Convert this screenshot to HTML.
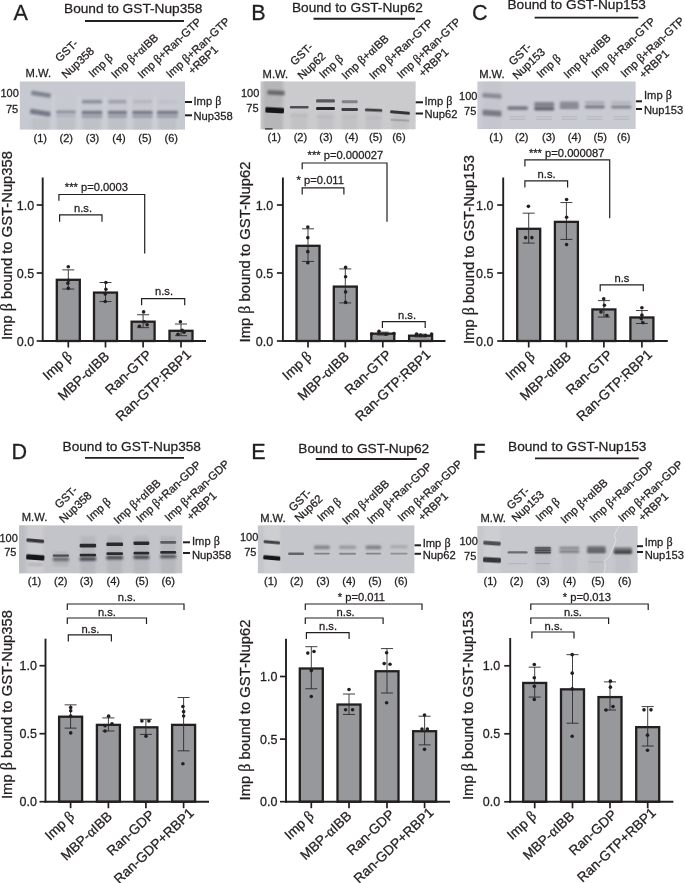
<!DOCTYPE html>
<html lang="en"><head><meta charset="utf-8"><title>Figure</title>
<style>
html,body{margin:0;padding:0;background:#fff;}
body{width:685px;height:883px;overflow:hidden;}
svg{display:block;}
text{font-family:"Liberation Sans",Arial,Helvetica,sans-serif;fill:#231f20;stroke:#231f20;stroke-width:0.28px;stroke-linejoin:round;}
.g{font-family:"Liberation Serif","Times New Roman",serif;font-size:108%;}
</style></head><body>
<svg width="685" height="883" viewBox="0 0 685 883">
<defs>
<filter id="b1" x="-20%" y="-100%" width="140%" height="300%"><feGaussianBlur stdDeviation="0.55"/></filter>
<filter id="b2" x="-20%" y="-100%" width="140%" height="300%"><feGaussianBlur stdDeviation="0.68"/></filter>
<filter id="b3" x="-20%" y="-150%" width="140%" height="400%"><feGaussianBlur stdDeviation="1.0"/></filter>
<filter id="b5" x="-60%" y="-30%" width="220%" height="160%"><feGaussianBlur stdDeviation="1.6"/></filter>
<filter id="b4" x="-30%" y="-200%" width="160%" height="500%"><feGaussianBlur stdDeviation="2.6"/></filter>
</defs>
<rect width="685" height="883" fill="#ffffff"/>
<g id="panelA">
<text x="13.60" y="19.80" font-size="21.6" text-anchor="start">A</text>
<text x="64.00" y="13.20" font-size="13.7" text-anchor="start">Bound to GST-Nup358</text>
<line x1="85.00" y1="21.00" x2="184.00" y2="21.00" stroke="#231f20" stroke-width="1.9"/>
<text x="25.60" y="76.60" font-size="11.2" text-anchor="start">M.W.</text>
<text x="0" y="0" transform="translate(59.50 62.50) rotate(-43)" font-size="11.3" text-anchor="start">GST-</text>
<text x="0" y="0" transform="translate(66.00 79.00) rotate(-43)" font-size="11.3" text-anchor="start">Nup358</text>
<text x="0" y="0" transform="translate(93.00 78.00) rotate(-43)" font-size="11.3" text-anchor="start">Imp <tspan class="g">β</tspan></text>
<text x="0" y="0" transform="translate(115.50 79.00) rotate(-43)" font-size="11.3" text-anchor="start">Imp <tspan class="g">β</tspan>+<tspan class="g">α</tspan>IBB</text>
<text x="0" y="0" transform="translate(142.00 79.00) rotate(-43)" font-size="11.3" text-anchor="start">Imp <tspan class="g">β</tspan>+Ran-GTP</text>
<text x="0" y="0" transform="translate(170.50 78.50) rotate(-43)" font-size="11.3" text-anchor="start">Imp <tspan class="g">β</tspan>+Ran-GTP</text>
<text x="0" y="0" transform="translate(192.50 75.00) rotate(-43)" font-size="11.3" text-anchor="start">+RBP1</text>
<clipPath id="cA"><rect x="19.6" y="81.3" width="165.40" height="48.50"/></clipPath>
<g clip-path="url(#cA)">
<rect x="19.6" y="81.3" width="165.40" height="48.50" fill="#c7c9d0"/>
<rect x="51.50" y="96.00" width="4.00" height="36.00" fill="#d3d6dc" fill-opacity="0.45" filter="url(#b5)"/>
<rect x="77.00" y="96.00" width="4.00" height="36.00" fill="#d3d6dc" fill-opacity="0.45" filter="url(#b5)"/>
<rect x="102.80" y="96.00" width="4.00" height="36.00" fill="#d3d6dc" fill-opacity="0.45" filter="url(#b5)"/>
<rect x="127.50" y="96.00" width="4.00" height="36.00" fill="#d3d6dc" fill-opacity="0.45" filter="url(#b5)"/>
<rect x="153.00" y="96.00" width="4.00" height="36.00" fill="#d3d6dc" fill-opacity="0.45" filter="url(#b5)"/>
<rect x="31.80" y="118.00" width="17.00" height="14.00" fill="#b3b5bb" fill-opacity="0.45" filter="url(#b5)"/>
<rect x="57.40" y="118.00" width="17.00" height="14.00" fill="#b3b5bb" fill-opacity="0.45" filter="url(#b5)"/>
<rect x="83.50" y="118.00" width="17.00" height="14.00" fill="#b3b5bb" fill-opacity="0.45" filter="url(#b5)"/>
<rect x="108.90" y="118.00" width="17.00" height="14.00" fill="#b3b5bb" fill-opacity="0.45" filter="url(#b5)"/>
<rect x="134.00" y="118.00" width="17.00" height="14.00" fill="#b3b5bb" fill-opacity="0.45" filter="url(#b5)"/>
<rect x="159.00" y="118.00" width="17.00" height="14.00" fill="#b3b5bb" fill-opacity="0.45" filter="url(#b5)"/>
<rect x="31.20" y="92.00" width="19.60" height="4.40" rx="1.20" fill="#7f828e" fill-opacity="1" filter="url(#b3)" transform="rotate(9 41.00 94.20)"/>
<rect x="30.00" y="110.20" width="20.60" height="5.00" rx="1.20" fill="#747785" fill-opacity="1" filter="url(#b3)" transform="rotate(9 40.30 112.70)"/>
<rect x="56.15" y="110.50" width="19.50" height="3.00" rx="1.20" fill="#858893" fill-opacity="0.9" filter="url(#b3)"/>
<rect x="56.15" y="114.70" width="19.50" height="2.60" rx="1.20" fill="#90939e" fill-opacity="0.5" filter="url(#b3)"/>
<rect x="82.00" y="99.90" width="20.00" height="3.60" rx="1.20" fill="#858893" fill-opacity="0.9" filter="url(#b3)"/>
<rect x="81.75" y="110.70" width="20.50" height="3.80" rx="1.20" fill="#777a86" fill-opacity="1" filter="url(#b3)"/>
<rect x="81.75" y="115.10" width="20.50" height="2.80" rx="1.20" fill="#8a8d98" fill-opacity="0.75" filter="url(#b3)"/>
<rect x="108.40" y="100.00" width="18.00" height="3.40" rx="1.20" fill="#858893" fill-opacity="0.62" filter="url(#b3)"/>
<rect x="107.90" y="110.70" width="19.00" height="3.80" rx="1.20" fill="#777a86" fill-opacity="1" filter="url(#b3)"/>
<rect x="107.90" y="115.10" width="19.00" height="2.80" rx="1.20" fill="#8a8d98" fill-opacity="0.75" filter="url(#b3)"/>
<rect x="133.00" y="100.20" width="19.00" height="3.00" rx="1.20" fill="#858893" fill-opacity="0.3" filter="url(#b3)"/>
<rect x="132.40" y="110.70" width="20.20" height="3.80" rx="1.20" fill="#777a86" fill-opacity="1" filter="url(#b3)"/>
<rect x="132.40" y="115.10" width="20.20" height="2.80" rx="1.20" fill="#8a8d98" fill-opacity="0.75" filter="url(#b3)"/>
<rect x="158.00" y="100.20" width="19.00" height="3.00" rx="1.20" fill="#858893" fill-opacity="0.17" filter="url(#b3)"/>
<rect x="157.00" y="110.70" width="21.00" height="3.80" rx="1.20" fill="#777a86" fill-opacity="1" filter="url(#b3)"/>
<rect x="157.00" y="115.10" width="21.00" height="2.80" rx="1.20" fill="#8a8d98" fill-opacity="0.75" filter="url(#b3)"/>
</g>
<text x="18.80" y="97.30" font-size="11" text-anchor="end">100</text>
<text x="18.20" y="112.60" font-size="11" text-anchor="end">75</text>
<line x1="185.00" y1="102.00" x2="192.00" y2="102.00" stroke="#231f20" stroke-width="2.0"/>
<text x="193.50" y="105.30" font-size="11.2" text-anchor="start">Imp <tspan class="g">β</tspan></text>
<line x1="185.00" y1="115.30" x2="192.00" y2="115.30" stroke="#231f20" stroke-width="2.0"/>
<text x="193.50" y="120.20" font-size="11.2" text-anchor="start">Nup358</text>
<text x="40.30" y="142.00" font-size="11" text-anchor="middle">(1)</text>
<text x="66.20" y="142.00" font-size="11" text-anchor="middle">(2)</text>
<text x="92.50" y="142.00" font-size="11" text-anchor="middle">(3)</text>
<text x="119.00" y="142.00" font-size="11" text-anchor="middle">(4)</text>
<text x="145.00" y="142.00" font-size="11" text-anchor="middle">(5)</text>
<text x="171.30" y="142.00" font-size="11" text-anchor="middle">(6)</text>
<rect x="56.80" y="279.80" width="23.00" height="61.20" fill="#97989c" stroke="#231f20" stroke-width="2.3"/>
<rect x="94.00" y="292.58" width="23.00" height="48.42" fill="#97989c" stroke="#231f20" stroke-width="2.3"/>
<rect x="131.60" y="321.69" width="23.00" height="19.31" fill="#97989c" stroke="#231f20" stroke-width="2.3"/>
<rect x="169.50" y="330.80" width="23.00" height="10.20" fill="#97989c" stroke="#231f20" stroke-width="2.3"/>
<line x1="68.30" y1="289.05" x2="68.30" y2="269.87" stroke="#2d292a" stroke-width="0.9"/>
<line x1="62.30" y1="289.05" x2="74.30" y2="289.05" stroke="#2d292a" stroke-width="0.9"/>
<line x1="62.30" y1="269.87" x2="74.30" y2="269.87" stroke="#2d292a" stroke-width="0.9"/>
<line x1="105.50" y1="301.56" x2="105.50" y2="282.52" stroke="#2d292a" stroke-width="0.9"/>
<line x1="99.50" y1="301.56" x2="111.50" y2="301.56" stroke="#2d292a" stroke-width="0.9"/>
<line x1="99.50" y1="282.52" x2="111.50" y2="282.52" stroke="#2d292a" stroke-width="0.9"/>
<line x1="143.10" y1="327.67" x2="143.10" y2="314.75" stroke="#2d292a" stroke-width="0.9"/>
<line x1="137.10" y1="327.67" x2="149.10" y2="327.67" stroke="#2d292a" stroke-width="0.9"/>
<line x1="137.10" y1="314.75" x2="149.10" y2="314.75" stroke="#2d292a" stroke-width="0.9"/>
<line x1="181.00" y1="335.70" x2="181.00" y2="324.00" stroke="#2d292a" stroke-width="0.9"/>
<line x1="175.00" y1="335.70" x2="187.00" y2="335.70" stroke="#2d292a" stroke-width="0.9"/>
<line x1="175.00" y1="324.00" x2="187.00" y2="324.00" stroke="#2d292a" stroke-width="0.9"/>
<circle cx="68.30" cy="266.74" r="1.8" fill="#231f20"/>
<circle cx="68.60" cy="280.34" r="1.8" fill="#231f20"/>
<circle cx="67.80" cy="283.20" r="1.8" fill="#231f20"/>
<circle cx="68.30" cy="288.37" r="1.8" fill="#231f20"/>
<circle cx="105.90" cy="282.52" r="1.8" fill="#231f20"/>
<circle cx="105.90" cy="289.32" r="1.8" fill="#231f20"/>
<circle cx="105.20" cy="294.08" r="1.8" fill="#231f20"/>
<circle cx="105.20" cy="301.56" r="1.8" fill="#231f20"/>
<circle cx="143.60" cy="311.90" r="1.8" fill="#231f20"/>
<circle cx="144.30" cy="321.69" r="1.8" fill="#231f20"/>
<circle cx="139.40" cy="326.31" r="1.8" fill="#231f20"/>
<circle cx="147.10" cy="324.68" r="1.8" fill="#231f20"/>
<circle cx="180.40" cy="321.69" r="1.8" fill="#231f20"/>
<circle cx="182.20" cy="330.39" r="1.8" fill="#231f20"/>
<circle cx="178.00" cy="334.20" r="1.8" fill="#231f20"/>
<circle cx="184.00" cy="332.16" r="1.8" fill="#231f20"/>
<line x1="42.70" y1="177.50" x2="42.70" y2="341.95" stroke="#231f20" stroke-width="1.9"/>
<line x1="41.75" y1="341.00" x2="206.00" y2="341.00" stroke="#231f20" stroke-width="1.9"/>
<line x1="36.70" y1="341.00" x2="42.70" y2="341.00" stroke="#231f20" stroke-width="1.7"/>
<text x="34.20" y="345.60" font-size="12.5" text-anchor="end">0.0</text>
<line x1="36.70" y1="273.00" x2="42.70" y2="273.00" stroke="#231f20" stroke-width="1.7"/>
<text x="34.20" y="277.60" font-size="12.5" text-anchor="end">0.5</text>
<line x1="36.70" y1="205.00" x2="42.70" y2="205.00" stroke="#231f20" stroke-width="1.7"/>
<text x="34.20" y="209.60" font-size="12.5" text-anchor="end">1.0</text>
<line x1="68.30" y1="341.00" x2="68.30" y2="347.50" stroke="#231f20" stroke-width="1.7"/>
<line x1="105.50" y1="341.00" x2="105.50" y2="347.50" stroke="#231f20" stroke-width="1.7"/>
<line x1="143.10" y1="341.00" x2="143.10" y2="347.50" stroke="#231f20" stroke-width="1.7"/>
<line x1="181.00" y1="341.00" x2="181.00" y2="347.50" stroke="#231f20" stroke-width="1.7"/>
<text x="0" y="0" transform="translate(72.90 357.60) rotate(-43)" font-size="13.7" text-anchor="end">Imp <tspan class="g">β</tspan></text>
<text x="0" y="0" transform="translate(110.10 357.60) rotate(-43)" font-size="13.7" text-anchor="end">MBP-<tspan class="g">α</tspan>IBB</text>
<text x="0" y="0" transform="translate(152.70 356.10) rotate(-43)" font-size="13.7" text-anchor="end">Ran-GTP</text>
<text x="0" y="0" transform="translate(192.10 355.60) rotate(-43)" font-size="13.7" text-anchor="end">Ran-GTP:RBP1</text>
<text x="0" y="0" transform="translate(11.60 245.50) rotate(-90)" font-size="14.8" text-anchor="middle">Imp <tspan class="g">β</tspan> bound to GST-Nup358</text>
<polyline points="58.90,200.80 58.90,194.50 144.70,194.50 144.70,253.40" fill="none" stroke="#231f20" stroke-width="1.2"/>
<text x="96.40" y="190.50" font-size="11.2" text-anchor="middle">*** p=0.0003</text>
<polyline points="59.60,221.80 59.60,214.80 102.00,214.80 102.00,221.80" fill="none" stroke="#231f20" stroke-width="1.2"/>
<text x="83.00" y="212.40" font-size="11.2" text-anchor="middle">n.s.</text>
<polyline points="141.60,305.20 141.60,298.60 184.70,298.60 184.70,305.20" fill="none" stroke="#231f20" stroke-width="1.2"/>
<text x="164.00" y="295.40" font-size="11.2" text-anchor="middle">n.s.</text>
</g>
<g id="panelB">
<text x="251.20" y="19.50" font-size="21.6" text-anchor="start">B</text>
<text x="291.90" y="11.50" font-size="13.7" text-anchor="start">Bound to GST-Nup62</text>
<line x1="313.50" y1="18.80" x2="415.00" y2="18.80" stroke="#231f20" stroke-width="1.9"/>
<text x="262.60" y="77.80" font-size="11.2" text-anchor="start">M.W.</text>
<text x="0" y="0" transform="translate(294.50 66.00) rotate(-43)" font-size="11.3" text-anchor="start">GST-</text>
<text x="0" y="0" transform="translate(302.00 80.00) rotate(-43)" font-size="11.3" text-anchor="start">Nup62</text>
<text x="0" y="0" transform="translate(323.50 79.00) rotate(-43)" font-size="11.3" text-anchor="start">Imp <tspan class="g">β</tspan></text>
<text x="0" y="0" transform="translate(346.00 80.00) rotate(-43)" font-size="11.3" text-anchor="start">Imp <tspan class="g">β</tspan>+<tspan class="g">α</tspan>IBB</text>
<text x="0" y="0" transform="translate(373.50 80.00) rotate(-43)" font-size="11.3" text-anchor="start">Imp <tspan class="g">β</tspan>+Ran-GTP</text>
<text x="0" y="0" transform="translate(401.30 79.00) rotate(-43)" font-size="11.3" text-anchor="start">Imp <tspan class="g">β</tspan>+Ran-GTP</text>
<text x="0" y="0" transform="translate(423.00 77.50) rotate(-43)" font-size="11.3" text-anchor="start">+RBP1</text>
<clipPath id="cB"><rect x="260.3" y="81.3" width="155.50" height="48.20"/></clipPath>
<g clip-path="url(#cB)">
<rect x="260.3" y="81.3" width="155.50" height="48.20" fill="#cbcbcd"/>
<rect x="263.00" y="78.00" width="20.00" height="54.00" fill="#a9a9ac" fill-opacity="0.6" filter="url(#b5)"/>
<rect x="291.20" y="112.00" width="16.00" height="20.00" fill="#b9b9bc" fill-opacity="0.45" filter="url(#b5)"/>
<rect x="317.50" y="112.00" width="16.00" height="20.00" fill="#b9b9bc" fill-opacity="0.45" filter="url(#b5)"/>
<rect x="341.70" y="112.00" width="16.00" height="20.00" fill="#b9b9bc" fill-opacity="0.45" filter="url(#b5)"/>
<rect x="365.60" y="112.00" width="16.00" height="20.00" fill="#b9b9bc" fill-opacity="0.45" filter="url(#b5)"/>
<rect x="392.00" y="112.00" width="16.00" height="20.00" fill="#b9b9bc" fill-opacity="0.45" filter="url(#b5)"/>
<rect x="267.40" y="90.40" width="17.20" height="4.60" rx="1.20" fill="#66666a" fill-opacity="1" filter="url(#b3)" transform="rotate(3 276.00 92.70)"/>
<rect x="265.40" y="107.40" width="18.60" height="5.60" rx="1.20" fill="#161618" fill-opacity="1" filter="url(#b2)" transform="rotate(3 274.70 110.20)"/>
<rect x="289.80" y="105.90" width="18.80" height="2.60" rx="1.20" fill="#4e4e52" fill-opacity="1" filter="url(#b2)"/>
<rect x="290.20" y="114.80" width="18.00" height="1.80" rx="0.90" fill="#a4a4a7" fill-opacity="0.4" filter="url(#b3)"/>
<rect x="316.10" y="99.20" width="18.80" height="3.40" rx="1.20" fill="#58585c" fill-opacity="1" filter="url(#b2)"/>
<rect x="316.10" y="106.90" width="18.80" height="3.20" rx="1.20" fill="#262628" fill-opacity="1" filter="url(#b2)"/>
<rect x="316.50" y="116.10" width="18.00" height="1.80" rx="0.90" fill="#a4a4a7" fill-opacity="0.4" filter="url(#b3)"/>
<rect x="341.70" y="100.20" width="16.00" height="3.00" rx="1.20" fill="#828285" fill-opacity="1" filter="url(#b2)"/>
<rect x="341.45" y="107.90" width="16.50" height="3.00" rx="1.20" fill="#3e3e42" fill-opacity="1" filter="url(#b2)"/>
<rect x="342.20" y="116.40" width="15.00" height="1.80" rx="0.90" fill="#a8a8ab" fill-opacity="0.4" filter="url(#b3)"/>
<rect x="364.95" y="108.80" width="17.30" height="2.80" rx="1.20" fill="#3e3e42" fill-opacity="1" filter="url(#b2)" transform="rotate(2.5 373.60 110.20)"/>
<rect x="365.60" y="117.10" width="16.00" height="1.80" rx="0.90" fill="#a8a8ab" fill-opacity="0.4" filter="url(#b3)"/>
<rect x="390.15" y="110.90" width="19.70" height="3.20" rx="1.20" fill="#343437" fill-opacity="1" filter="url(#b2)" transform="rotate(5 400.00 112.50)"/>
<rect x="390.50" y="119.30" width="19.00" height="2.00" rx="1.00" fill="#8f8f93" fill-opacity="0.7" filter="url(#b2)" transform="rotate(3 400.00 120.30)"/>
<rect x="265" y="128.3" width="7.5" height="2" fill="#222" filter="url(#b1)"/>
</g>
<text x="259.30" y="97.40" font-size="11" text-anchor="end">100</text>
<text x="258.60" y="112.30" font-size="11" text-anchor="end">75</text>
<line x1="415.70" y1="102.30" x2="423.00" y2="102.30" stroke="#231f20" stroke-width="2.0"/>
<text x="424.50" y="105.30" font-size="11.2" text-anchor="start">Imp <tspan class="g">β</tspan></text>
<line x1="415.70" y1="113.50" x2="423.00" y2="113.50" stroke="#231f20" stroke-width="2.0"/>
<text x="424.50" y="118.20" font-size="11.2" text-anchor="start">Nup62</text>
<text x="274.20" y="140.80" font-size="11" text-anchor="middle">(1)</text>
<text x="300.40" y="140.80" font-size="11" text-anchor="middle">(2)</text>
<text x="326.00" y="140.80" font-size="11" text-anchor="middle">(3)</text>
<text x="351.60" y="140.80" font-size="11" text-anchor="middle">(4)</text>
<text x="375.80" y="140.80" font-size="11" text-anchor="middle">(5)</text>
<text x="398.90" y="140.80" font-size="11" text-anchor="middle">(6)</text>
<rect x="296.50" y="245.80" width="23.00" height="95.20" fill="#97989c" stroke="#231f20" stroke-width="2.3"/>
<rect x="333.80" y="286.60" width="23.00" height="54.40" fill="#97989c" stroke="#231f20" stroke-width="2.3"/>
<rect x="371.30" y="333.66" width="23.00" height="7.34" fill="#97989c" stroke="#231f20" stroke-width="2.3"/>
<rect x="409.10" y="335.70" width="23.00" height="5.30" fill="#97989c" stroke="#231f20" stroke-width="2.3"/>
<line x1="308.00" y1="261.44" x2="308.00" y2="228.80" stroke="#2d292a" stroke-width="0.9"/>
<line x1="302.00" y1="261.44" x2="314.00" y2="261.44" stroke="#2d292a" stroke-width="0.9"/>
<line x1="302.00" y1="228.80" x2="314.00" y2="228.80" stroke="#2d292a" stroke-width="0.9"/>
<line x1="345.30" y1="302.92" x2="345.30" y2="268.92" stroke="#2d292a" stroke-width="0.9"/>
<line x1="339.30" y1="302.92" x2="351.30" y2="302.92" stroke="#2d292a" stroke-width="0.9"/>
<line x1="339.30" y1="268.92" x2="351.30" y2="268.92" stroke="#2d292a" stroke-width="0.9"/>
<line x1="382.80" y1="335.02" x2="382.80" y2="332.16" stroke="#2d292a" stroke-width="0.9"/>
<line x1="376.80" y1="335.02" x2="388.80" y2="335.02" stroke="#2d292a" stroke-width="0.9"/>
<line x1="376.80" y1="332.16" x2="388.80" y2="332.16" stroke="#2d292a" stroke-width="0.9"/>
<line x1="420.60" y1="336.92" x2="420.60" y2="334.20" stroke="#2d292a" stroke-width="0.9"/>
<line x1="414.60" y1="336.92" x2="426.60" y2="336.92" stroke="#2d292a" stroke-width="0.9"/>
<line x1="414.60" y1="334.20" x2="426.60" y2="334.20" stroke="#2d292a" stroke-width="0.9"/>
<circle cx="307.80" cy="227.03" r="1.8" fill="#231f20"/>
<circle cx="307.80" cy="237.64" r="1.8" fill="#231f20"/>
<circle cx="307.80" cy="251.65" r="1.8" fill="#231f20"/>
<circle cx="307.80" cy="262.80" r="1.8" fill="#231f20"/>
<circle cx="345.60" cy="267.42" r="1.8" fill="#231f20"/>
<circle cx="345.60" cy="276.81" r="1.8" fill="#231f20"/>
<circle cx="345.60" cy="291.90" r="1.8" fill="#231f20"/>
<circle cx="345.60" cy="302.38" r="1.8" fill="#231f20"/>
<circle cx="371.60" cy="334.06" r="1.8" fill="#231f20"/>
<circle cx="379.00" cy="331.34" r="1.8" fill="#231f20"/>
<circle cx="393.90" cy="333.52" r="1.8" fill="#231f20"/>
<circle cx="385.80" cy="334.20" r="1.8" fill="#231f20"/>
<circle cx="416.60" cy="333.93" r="1.8" fill="#231f20"/>
<circle cx="431.60" cy="333.93" r="1.8" fill="#231f20"/>
<circle cx="420.60" cy="335.15" r="1.8" fill="#231f20"/>
<circle cx="425.60" cy="335.56" r="1.8" fill="#231f20"/>
<line x1="282.90" y1="177.50" x2="282.90" y2="341.95" stroke="#231f20" stroke-width="1.9"/>
<line x1="281.95" y1="341.00" x2="445.50" y2="341.00" stroke="#231f20" stroke-width="1.9"/>
<line x1="276.90" y1="341.00" x2="282.90" y2="341.00" stroke="#231f20" stroke-width="1.7"/>
<text x="273.10" y="345.60" font-size="12.5" text-anchor="end">0.0</text>
<line x1="276.90" y1="273.00" x2="282.90" y2="273.00" stroke="#231f20" stroke-width="1.7"/>
<text x="273.10" y="277.60" font-size="12.5" text-anchor="end">0.5</text>
<line x1="276.90" y1="205.00" x2="282.90" y2="205.00" stroke="#231f20" stroke-width="1.7"/>
<text x="273.10" y="209.60" font-size="12.5" text-anchor="end">1.0</text>
<line x1="308.00" y1="341.00" x2="308.00" y2="347.50" stroke="#231f20" stroke-width="1.7"/>
<line x1="345.30" y1="341.00" x2="345.30" y2="347.50" stroke="#231f20" stroke-width="1.7"/>
<line x1="382.80" y1="341.00" x2="382.80" y2="347.50" stroke="#231f20" stroke-width="1.7"/>
<line x1="420.60" y1="341.00" x2="420.60" y2="347.50" stroke="#231f20" stroke-width="1.7"/>
<text x="0" y="0" transform="translate(312.60 357.60) rotate(-43)" font-size="13.7" text-anchor="end">Imp <tspan class="g">β</tspan></text>
<text x="0" y="0" transform="translate(349.90 357.60) rotate(-43)" font-size="13.7" text-anchor="end">MBP-<tspan class="g">α</tspan>IBB</text>
<text x="0" y="0" transform="translate(392.40 356.10) rotate(-43)" font-size="13.7" text-anchor="end">Ran-GTP</text>
<text x="0" y="0" transform="translate(431.70 355.60) rotate(-43)" font-size="13.7" text-anchor="end">Ran-GTP:RBP1</text>
<text x="0" y="0" transform="translate(250.10 252.00) rotate(-90)" font-size="14.8" text-anchor="middle">Imp <tspan class="g">β</tspan> bound to GST-Nup62</text>
<polyline points="302.20,169.30 302.20,163.00 387.00,163.00 387.00,221.80" fill="none" stroke="#231f20" stroke-width="1.2"/>
<text x="345.40" y="159.00" font-size="11.2" text-anchor="middle">*** p=0.000027</text>
<polyline points="302.20,194.50 302.20,187.80 343.90,187.80 343.90,194.50" fill="none" stroke="#231f20" stroke-width="1.2"/>
<text x="320.30" y="184.20" font-size="11.2" text-anchor="middle">* p=0.011</text>
<polyline points="382.40,328.00 382.40,321.70 425.20,321.70 425.20,328.00" fill="none" stroke="#231f20" stroke-width="1.2"/>
<text x="407.00" y="318.90" font-size="11.2" text-anchor="middle">n.s.</text>
</g>
<g id="panelC">
<text x="472.00" y="19.90" font-size="21.6" text-anchor="start">C</text>
<text x="507.40" y="9.40" font-size="13.7" text-anchor="start">Bound to GST-Nup153</text>
<line x1="534.60" y1="17.60" x2="638.40" y2="17.60" stroke="#231f20" stroke-width="1.9"/>
<text x="479.20" y="77.80" font-size="11.2" text-anchor="start">M.W.</text>
<text x="0" y="0" transform="translate(513.00 66.00) rotate(-43)" font-size="11.3" text-anchor="start">GST-</text>
<text x="0" y="0" transform="translate(517.00 80.00) rotate(-43)" font-size="11.3" text-anchor="start">Nup153</text>
<text x="0" y="0" transform="translate(541.00 78.50) rotate(-43)" font-size="11.3" text-anchor="start">Imp <tspan class="g">β</tspan></text>
<text x="0" y="0" transform="translate(568.00 79.00) rotate(-43)" font-size="11.3" text-anchor="start">Imp <tspan class="g">β</tspan>+<tspan class="g">α</tspan>IBB</text>
<text x="0" y="0" transform="translate(596.00 78.50) rotate(-43)" font-size="11.3" text-anchor="start">Imp <tspan class="g">β</tspan>+Ran-GTP</text>
<text x="0" y="0" transform="translate(625.00 78.00) rotate(-43)" font-size="11.3" text-anchor="start">Imp <tspan class="g">β</tspan>+Ran-GTP</text>
<text x="0" y="0" transform="translate(643.50 79.00) rotate(-43)" font-size="11.3" text-anchor="start">+RBP1</text>
<clipPath id="cC"><rect x="477.2" y="81.3" width="158.60" height="47.80"/></clipPath>
<g clip-path="url(#cC)">
<rect x="477.2" y="81.3" width="158.60" height="47.80" fill="#c9cbd2"/>
<rect x="483.00" y="78.00" width="18.00" height="54.00" fill="#b9bac0" fill-opacity="0.3" filter="url(#b5)"/>
<rect x="482.50" y="93.50" width="19.00" height="4.60" rx="1.20" fill="#888993" fill-opacity="1" filter="url(#b3)" transform="rotate(4 492.00 95.80)"/>
<rect x="482.50" y="110.30" width="19.00" height="5.60" rx="1.20" fill="#787984" fill-opacity="1" filter="url(#b3)" transform="rotate(4 492.00 113.10)"/>
<rect x="507.45" y="106.30" width="20.30" height="3.60" rx="1.20" fill="#777882" fill-opacity="1" filter="url(#b3)"/>
<rect x="534.35" y="101.90" width="19.70" height="5.00" rx="1.20" fill="#83848e" fill-opacity="1" filter="url(#b3)"/>
<rect x="534.35" y="106.80" width="19.70" height="3.60" rx="1.20" fill="#62636c" fill-opacity="1" filter="url(#b3)"/>
<rect x="559.95" y="101.50" width="18.70" height="6.60" rx="1.20" fill="#8b8c95" fill-opacity="1" filter="url(#b3)"/>
<rect x="559.95" y="107.00" width="18.70" height="2.00" rx="1.00" fill="#787983" fill-opacity="0.8" filter="url(#b3)"/>
<rect x="584.95" y="101.30" width="19.70" height="2.60" rx="1.20" fill="#a5a6ae" fill-opacity="1" filter="url(#b3)"/>
<rect x="584.95" y="105.30" width="19.70" height="3.20" rx="1.20" fill="#787983" fill-opacity="1" filter="url(#b3)"/>
<rect x="611.20" y="101.40" width="20.00" height="2.40" rx="1.20" fill="#aeafb7" fill-opacity="1" filter="url(#b3)"/>
<rect x="611.20" y="105.40" width="20.00" height="3.00" rx="1.20" fill="#80818b" fill-opacity="1" filter="url(#b3)"/>
<rect x="509.60" y="115.90" width="16.00" height="1.40" rx="0.70" fill="#aeafb6" fill-opacity="0.55" filter="url(#b2)"/>
<rect x="509.60" y="118.50" width="16.00" height="1.40" rx="0.70" fill="#aeafb6" fill-opacity="0.55" filter="url(#b2)"/>
<rect x="536.20" y="115.90" width="16.00" height="1.40" rx="0.70" fill="#aeafb6" fill-opacity="0.55" filter="url(#b2)"/>
<rect x="536.20" y="118.50" width="16.00" height="1.40" rx="0.70" fill="#aeafb6" fill-opacity="0.55" filter="url(#b2)"/>
<rect x="561.30" y="115.90" width="16.00" height="1.40" rx="0.70" fill="#aeafb6" fill-opacity="0.55" filter="url(#b2)"/>
<rect x="561.30" y="118.50" width="16.00" height="1.40" rx="0.70" fill="#aeafb6" fill-opacity="0.55" filter="url(#b2)"/>
<rect x="586.80" y="115.90" width="16.00" height="1.40" rx="0.70" fill="#aeafb6" fill-opacity="0.55" filter="url(#b2)"/>
<rect x="586.80" y="118.50" width="16.00" height="1.40" rx="0.70" fill="#aeafb6" fill-opacity="0.55" filter="url(#b2)"/>
<rect x="613.20" y="115.90" width="16.00" height="1.40" rx="0.70" fill="#aeafb6" fill-opacity="0.55" filter="url(#b2)"/>
<rect x="613.20" y="118.50" width="16.00" height="1.40" rx="0.70" fill="#aeafb6" fill-opacity="0.55" filter="url(#b2)"/>
</g>
<text x="477.40" y="100.00" font-size="11" text-anchor="end">100</text>
<text x="476.30" y="114.90" font-size="11" text-anchor="end">75</text>
<line x1="636.00" y1="101.30" x2="642.00" y2="101.30" stroke="#231f20" stroke-width="2.0"/>
<text x="644.00" y="99.30" font-size="11.2" text-anchor="start">Imp <tspan class="g">β</tspan></text>
<line x1="636.00" y1="109.00" x2="642.00" y2="109.00" stroke="#231f20" stroke-width="2.0"/>
<text x="644.00" y="114.00" font-size="11.2" text-anchor="start">Nup153</text>
<text x="496.10" y="141.20" font-size="11" text-anchor="middle">(1)</text>
<text x="521.80" y="141.20" font-size="11" text-anchor="middle">(2)</text>
<text x="548.70" y="141.20" font-size="11" text-anchor="middle">(3)</text>
<text x="574.60" y="141.20" font-size="11" text-anchor="middle">(4)</text>
<text x="600.20" y="141.20" font-size="11" text-anchor="middle">(5)</text>
<text x="623.70" y="141.20" font-size="11" text-anchor="middle">(6)</text>
<rect x="517.20" y="228.80" width="23.00" height="112.20" fill="#97989c" stroke="#231f20" stroke-width="2.3"/>
<rect x="554.90" y="221.86" width="23.00" height="119.14" fill="#97989c" stroke="#231f20" stroke-width="2.3"/>
<rect x="592.40" y="309.45" width="23.00" height="31.55" fill="#97989c" stroke="#231f20" stroke-width="2.3"/>
<rect x="630.40" y="317.47" width="23.00" height="23.53" fill="#97989c" stroke="#231f20" stroke-width="2.3"/>
<line x1="528.70" y1="243.08" x2="528.70" y2="213.16" stroke="#2d292a" stroke-width="0.9"/>
<line x1="522.70" y1="243.08" x2="534.70" y2="243.08" stroke="#2d292a" stroke-width="0.9"/>
<line x1="522.70" y1="213.16" x2="534.70" y2="213.16" stroke="#2d292a" stroke-width="0.9"/>
<line x1="566.40" y1="239.41" x2="566.40" y2="202.55" stroke="#2d292a" stroke-width="0.9"/>
<line x1="560.40" y1="239.41" x2="572.40" y2="239.41" stroke="#2d292a" stroke-width="0.9"/>
<line x1="560.40" y1="202.55" x2="572.40" y2="202.55" stroke="#2d292a" stroke-width="0.9"/>
<line x1="603.90" y1="317.06" x2="603.90" y2="300.61" stroke="#2d292a" stroke-width="0.9"/>
<line x1="597.90" y1="317.06" x2="609.90" y2="317.06" stroke="#2d292a" stroke-width="0.9"/>
<line x1="597.90" y1="300.61" x2="609.90" y2="300.61" stroke="#2d292a" stroke-width="0.9"/>
<line x1="641.90" y1="323.46" x2="641.90" y2="310.54" stroke="#2d292a" stroke-width="0.9"/>
<line x1="635.90" y1="323.46" x2="647.90" y2="323.46" stroke="#2d292a" stroke-width="0.9"/>
<line x1="635.90" y1="310.54" x2="647.90" y2="310.54" stroke="#2d292a" stroke-width="0.9"/>
<circle cx="528.40" cy="206.36" r="1.8" fill="#231f20"/>
<circle cx="525.60" cy="237.64" r="1.8" fill="#231f20"/>
<circle cx="531.90" cy="237.64" r="1.8" fill="#231f20"/>
<circle cx="566.60" cy="199.56" r="1.8" fill="#231f20"/>
<circle cx="566.60" cy="217.24" r="1.8" fill="#231f20"/>
<circle cx="566.60" cy="244.58" r="1.8" fill="#231f20"/>
<circle cx="603.70" cy="298.84" r="1.8" fill="#231f20"/>
<circle cx="604.40" cy="305.23" r="1.8" fill="#231f20"/>
<circle cx="601.00" cy="311.90" r="1.8" fill="#231f20"/>
<circle cx="606.90" cy="315.43" r="1.8" fill="#231f20"/>
<circle cx="641.90" cy="307.68" r="1.8" fill="#231f20"/>
<circle cx="641.90" cy="315.16" r="1.8" fill="#231f20"/>
<circle cx="641.20" cy="318.56" r="1.8" fill="#231f20"/>
<circle cx="642.90" cy="322.78" r="1.8" fill="#231f20"/>
<line x1="503.20" y1="177.50" x2="503.20" y2="341.95" stroke="#231f20" stroke-width="1.9"/>
<line x1="502.25" y1="341.00" x2="667.80" y2="341.00" stroke="#231f20" stroke-width="1.9"/>
<line x1="497.20" y1="341.00" x2="503.20" y2="341.00" stroke="#231f20" stroke-width="1.7"/>
<text x="493.50" y="345.60" font-size="12.5" text-anchor="end">0.0</text>
<line x1="497.20" y1="273.00" x2="503.20" y2="273.00" stroke="#231f20" stroke-width="1.7"/>
<text x="493.50" y="277.60" font-size="12.5" text-anchor="end">0.5</text>
<line x1="497.20" y1="205.00" x2="503.20" y2="205.00" stroke="#231f20" stroke-width="1.7"/>
<text x="493.50" y="209.60" font-size="12.5" text-anchor="end">1.0</text>
<line x1="528.70" y1="341.00" x2="528.70" y2="347.50" stroke="#231f20" stroke-width="1.7"/>
<line x1="566.40" y1="341.00" x2="566.40" y2="347.50" stroke="#231f20" stroke-width="1.7"/>
<line x1="603.90" y1="341.00" x2="603.90" y2="347.50" stroke="#231f20" stroke-width="1.7"/>
<line x1="641.90" y1="341.00" x2="641.90" y2="347.50" stroke="#231f20" stroke-width="1.7"/>
<text x="0" y="0" transform="translate(535.80 357.60) rotate(-43)" font-size="13.7" text-anchor="end">Imp <tspan class="g">β</tspan></text>
<text x="0" y="0" transform="translate(572.00 357.60) rotate(-43)" font-size="13.7" text-anchor="end">MBP-<tspan class="g">α</tspan>IBB</text>
<text x="0" y="0" transform="translate(613.50 356.10) rotate(-43)" font-size="13.7" text-anchor="end">Ran-GTP</text>
<text x="0" y="0" transform="translate(653.00 355.60) rotate(-43)" font-size="13.7" text-anchor="end">Ran-GTP:RBP1</text>
<text x="0" y="0" transform="translate(473.60 249.50) rotate(-90)" font-size="14.8" text-anchor="middle">Imp <tspan class="g">β</tspan> bound to GST-Nup153</text>
<polyline points="524.90,166.50 524.90,159.80 609.70,159.80 609.70,218.30" fill="none" stroke="#231f20" stroke-width="1.2"/>
<text x="566.70" y="156.50" font-size="11.2" text-anchor="middle">*** p=0.000087</text>
<polyline points="524.90,187.50 524.90,180.80 567.60,180.80 567.60,187.50" fill="none" stroke="#231f20" stroke-width="1.2"/>
<text x="546.60" y="178.00" font-size="11.2" text-anchor="middle">n.s.</text>
<polyline points="600.20,291.20 600.20,284.90 643.30,284.90 643.30,291.20" fill="none" stroke="#231f20" stroke-width="1.2"/>
<text x="622.00" y="282.40" font-size="11.2" text-anchor="middle">n.s</text>
</g>
<g id="panelD">
<text x="11.60" y="458.70" font-size="21.6" text-anchor="start">D</text>
<text x="62.50" y="450.70" font-size="13.7" text-anchor="start">Bound to GST-Nup358</text>
<line x1="85.00" y1="457.90" x2="184.00" y2="457.90" stroke="#231f20" stroke-width="1.9"/>
<text x="21.80" y="520.80" font-size="11.2" text-anchor="start">M.W.</text>
<text x="0" y="0" transform="translate(59.00 509.00) rotate(-43)" font-size="11.3" text-anchor="start">GST-</text>
<text x="0" y="0" transform="translate(63.50 523.50) rotate(-43)" font-size="11.3" text-anchor="start">Nup358</text>
<text x="0" y="0" transform="translate(91.00 522.00) rotate(-43)" font-size="11.3" text-anchor="start">Imp <tspan class="g">β</tspan></text>
<text x="0" y="0" transform="translate(118.00 524.50) rotate(-43)" font-size="11.3" text-anchor="start">Imp <tspan class="g">β</tspan>+<tspan class="g">α</tspan>IBB</text>
<text x="0" y="0" transform="translate(140.50 523.00) rotate(-43)" font-size="11.3" text-anchor="start">Imp <tspan class="g">β</tspan>+Ran-GDP</text>
<text x="0" y="0" transform="translate(169.00 522.00) rotate(-43)" font-size="11.3" text-anchor="start">Imp <tspan class="g">β</tspan>+Ran-GDP</text>
<text x="0" y="0" transform="translate(191.00 521.00) rotate(-43)" font-size="11.3" text-anchor="start">+RBP1</text>
<clipPath id="cD"><rect x="18.9" y="525.2" width="163.60" height="48.30"/></clipPath>
<g clip-path="url(#cD)">
<rect x="18.9" y="525.2" width="163.60" height="48.30" fill="#c3c4c9"/>
<rect x="27.30" y="522.00" width="16.00" height="54.00" fill="#d1d1d5" fill-opacity="0.6" filter="url(#b5)"/>
<rect x="19.50" y="522.00" width="5.00" height="54.00" fill="#b4b5ba" fill-opacity="0.5" filter="url(#b5)"/>
<rect x="80.40" y="536.00" width="15.00" height="40.00" fill="#a9aaaf" fill-opacity="0.5" filter="url(#b5)"/>
<rect x="107.20" y="536.00" width="15.00" height="40.00" fill="#a9aaaf" fill-opacity="0.5" filter="url(#b5)"/>
<rect x="133.90" y="536.00" width="15.00" height="40.00" fill="#a9aaaf" fill-opacity="0.5" filter="url(#b5)"/>
<rect x="160.70" y="536.00" width="15.00" height="40.00" fill="#a9aaaf" fill-opacity="0.5" filter="url(#b5)"/>
<rect x="53.40" y="552.00" width="15.00" height="14.00" fill="#a3a4a9" fill-opacity="0.55" filter="url(#b5)"/>
<rect x="26.50" y="539.00" width="17.60" height="3.40" rx="1.20" fill="#37373b" fill-opacity="1" filter="url(#b2)" transform="rotate(5 35.30 540.70)"/>
<rect x="26.20" y="554.80" width="18.20" height="5.20" rx="1.20" fill="#161618" fill-opacity="1" filter="url(#b2)" transform="rotate(4 35.30 557.40)"/>
<rect x="27.80" y="563.30" width="15.00" height="2.40" rx="1.20" fill="#9a9a9e" fill-opacity="0.5" filter="url(#b3)"/>
<rect x="52.70" y="554.50" width="16.40" height="2.20" rx="1.10" fill="#404044" fill-opacity="0.9" filter="url(#b2)"/>
<rect x="52.70" y="557.60" width="16.40" height="3.40" rx="1.20" fill="#5c5c60" fill-opacity="0.8" filter="url(#b3)"/>
<rect x="79.65" y="543.80" width="16.50" height="3.60" rx="1.20" fill="#2a2a2e" fill-opacity="1" filter="url(#b2)"/>
<rect x="79.65" y="553.70" width="16.50" height="2.80" rx="1.20" fill="#2a2a2e" fill-opacity="1" filter="url(#b2)"/>
<rect x="79.65" y="557.30" width="16.50" height="3.40" rx="1.20" fill="#3e3e43" fill-opacity="0.9" filter="url(#b3)"/>
<rect x="106.35" y="542.50" width="16.70" height="3.60" rx="1.20" fill="#2a2a2e" fill-opacity="1" filter="url(#b2)"/>
<rect x="106.35" y="552.20" width="16.70" height="2.80" rx="1.20" fill="#2a2a2e" fill-opacity="1" filter="url(#b2)"/>
<rect x="106.35" y="556.10" width="16.70" height="3.40" rx="1.20" fill="#3e3e43" fill-opacity="0.9" filter="url(#b3)"/>
<rect x="133.50" y="541.40" width="15.80" height="3.60" rx="1.20" fill="#2a2a2e" fill-opacity="1" filter="url(#b2)"/>
<rect x="133.50" y="551.70" width="15.80" height="2.80" rx="1.20" fill="#2a2a2e" fill-opacity="1" filter="url(#b2)"/>
<rect x="133.50" y="555.50" width="15.80" height="3.40" rx="1.20" fill="#3e3e43" fill-opacity="0.9" filter="url(#b3)"/>
<rect x="160.20" y="540.90" width="16.00" height="2.80" rx="1.20" fill="#5c5c61" fill-opacity="1" filter="url(#b2)"/>
<rect x="160.20" y="550.90" width="16.00" height="2.80" rx="1.20" fill="#2c2c30" fill-opacity="1" filter="url(#b2)"/>
<rect x="160.20" y="554.90" width="16.00" height="3.40" rx="1.20" fill="#4a4a4f" fill-opacity="0.9" filter="url(#b3)"/>
</g>
<text x="17.80" y="541.50" font-size="11" text-anchor="end">100</text>
<text x="16.40" y="556.30" font-size="11" text-anchor="end">75</text>
<line x1="183.00" y1="542.30" x2="190.00" y2="542.30" stroke="#231f20" stroke-width="2.0"/>
<text x="192.00" y="545.30" font-size="11.2" text-anchor="start">Imp <tspan class="g">β</tspan></text>
<line x1="183.00" y1="553.00" x2="190.00" y2="553.00" stroke="#231f20" stroke-width="2.0"/>
<text x="192.00" y="559.20" font-size="11.2" text-anchor="start">Nup358</text>
<text x="34.50" y="585.00" font-size="11" text-anchor="middle">(1)</text>
<text x="60.70" y="585.00" font-size="11" text-anchor="middle">(2)</text>
<text x="86.50" y="585.00" font-size="11" text-anchor="middle">(3)</text>
<text x="113.20" y="585.00" font-size="11" text-anchor="middle">(4)</text>
<text x="141.90" y="585.00" font-size="11" text-anchor="middle">(5)</text>
<text x="168.20" y="585.00" font-size="11" text-anchor="middle">(6)</text>
<rect x="59.10" y="716.70" width="23.00" height="85.00" fill="#97989c" stroke="#231f20" stroke-width="2.3"/>
<rect x="96.90" y="724.86" width="23.00" height="76.84" fill="#97989c" stroke="#231f20" stroke-width="2.3"/>
<rect x="134.40" y="727.31" width="23.00" height="74.39" fill="#97989c" stroke="#231f20" stroke-width="2.3"/>
<rect x="172.10" y="724.86" width="23.00" height="76.84" fill="#97989c" stroke="#231f20" stroke-width="2.3"/>
<line x1="70.60" y1="728.12" x2="70.60" y2="704.87" stroke="#2d292a" stroke-width="0.9"/>
<line x1="64.60" y1="728.12" x2="76.60" y2="728.12" stroke="#2d292a" stroke-width="0.9"/>
<line x1="64.60" y1="704.87" x2="76.60" y2="704.87" stroke="#2d292a" stroke-width="0.9"/>
<line x1="108.40" y1="730.98" x2="108.40" y2="717.92" stroke="#2d292a" stroke-width="0.9"/>
<line x1="102.40" y1="730.98" x2="114.40" y2="730.98" stroke="#2d292a" stroke-width="0.9"/>
<line x1="102.40" y1="717.92" x2="114.40" y2="717.92" stroke="#2d292a" stroke-width="0.9"/>
<line x1="145.90" y1="734.38" x2="145.90" y2="719.28" stroke="#2d292a" stroke-width="0.9"/>
<line x1="139.90" y1="734.38" x2="151.90" y2="734.38" stroke="#2d292a" stroke-width="0.9"/>
<line x1="139.90" y1="719.28" x2="151.90" y2="719.28" stroke="#2d292a" stroke-width="0.9"/>
<line x1="183.60" y1="750.84" x2="183.60" y2="697.52" stroke="#2d292a" stroke-width="0.9"/>
<line x1="177.60" y1="750.84" x2="189.60" y2="750.84" stroke="#2d292a" stroke-width="0.9"/>
<line x1="177.60" y1="697.52" x2="189.60" y2="697.52" stroke="#2d292a" stroke-width="0.9"/>
<circle cx="70.70" cy="707.45" r="1.8" fill="#231f20"/>
<circle cx="70.70" cy="710.72" r="1.8" fill="#231f20"/>
<circle cx="70.70" cy="716.16" r="1.8" fill="#231f20"/>
<circle cx="70.70" cy="732.88" r="1.8" fill="#231f20"/>
<circle cx="108.60" cy="716.16" r="1.8" fill="#231f20"/>
<circle cx="112.00" cy="723.77" r="1.8" fill="#231f20"/>
<circle cx="105.00" cy="725.81" r="1.8" fill="#231f20"/>
<circle cx="105.00" cy="730.98" r="1.8" fill="#231f20"/>
<circle cx="141.90" cy="721.05" r="1.8" fill="#231f20"/>
<circle cx="148.90" cy="721.05" r="1.8" fill="#231f20"/>
<circle cx="146.00" cy="736.15" r="1.8" fill="#231f20"/>
<circle cx="182.90" cy="706.50" r="1.8" fill="#231f20"/>
<circle cx="183.60" cy="711.67" r="1.8" fill="#231f20"/>
<circle cx="183.60" cy="716.02" r="1.8" fill="#231f20"/>
<circle cx="182.90" cy="763.76" r="1.8" fill="#231f20"/>
<line x1="45.50" y1="638.70" x2="45.50" y2="802.65" stroke="#231f20" stroke-width="1.9"/>
<line x1="44.55" y1="801.70" x2="209.00" y2="801.70" stroke="#231f20" stroke-width="1.9"/>
<line x1="39.50" y1="801.70" x2="45.50" y2="801.70" stroke="#231f20" stroke-width="1.7"/>
<text x="37.00" y="806.30" font-size="12.5" text-anchor="end">0.0</text>
<line x1="39.50" y1="733.70" x2="45.50" y2="733.70" stroke="#231f20" stroke-width="1.7"/>
<text x="37.00" y="738.30" font-size="12.5" text-anchor="end">0.5</text>
<line x1="39.50" y1="665.70" x2="45.50" y2="665.70" stroke="#231f20" stroke-width="1.7"/>
<text x="37.00" y="670.30" font-size="12.5" text-anchor="end">1.0</text>
<line x1="70.60" y1="801.70" x2="70.60" y2="808.20" stroke="#231f20" stroke-width="1.7"/>
<line x1="108.40" y1="801.70" x2="108.40" y2="808.20" stroke="#231f20" stroke-width="1.7"/>
<line x1="145.90" y1="801.70" x2="145.90" y2="808.20" stroke="#231f20" stroke-width="1.7"/>
<line x1="183.60" y1="801.70" x2="183.60" y2="808.20" stroke="#231f20" stroke-width="1.7"/>
<text x="0" y="0" transform="translate(75.20 817.60) rotate(-43)" font-size="13.7" text-anchor="end">Imp <tspan class="g">β</tspan></text>
<text x="0" y="0" transform="translate(113.00 817.60) rotate(-43)" font-size="13.7" text-anchor="end">MBP-<tspan class="g">α</tspan>IBB</text>
<text x="0" y="0" transform="translate(155.50 816.10) rotate(-43)" font-size="13.7" text-anchor="end">Ran-GDP</text>
<text x="0" y="0" transform="translate(194.70 814.10) rotate(-43)" font-size="13.7" text-anchor="end">Ran-GDP+RBP1</text>
<text x="0" y="0" transform="translate(12.20 704.50) rotate(-90)" font-size="14.8" text-anchor="middle">Imp <tspan class="g">β</tspan> bound to GST-Nup358</text>
<polyline points="67.30,610.00 67.30,604.00 184.00,604.00 184.00,610.00" fill="none" stroke="#231f20" stroke-width="1.2"/>
<text x="126.80" y="601.00" font-size="11.2" text-anchor="middle">n.s.</text>
<polyline points="67.30,624.00 67.30,618.00 146.50,618.00 146.50,624.00" fill="none" stroke="#231f20" stroke-width="1.2"/>
<text x="106.90" y="615.60" font-size="11.2" text-anchor="middle">n.s.</text>
<polyline points="68.30,641.50 68.30,634.80 111.40,634.80 111.40,641.50" fill="none" stroke="#231f20" stroke-width="1.2"/>
<text x="90.40" y="632.70" font-size="11.2" text-anchor="middle">n.s.</text>
</g>
<g id="panelE">
<text x="251.20" y="459.00" font-size="21.6" text-anchor="start">E</text>
<text x="298.30" y="452.50" font-size="13.7" text-anchor="start">Bound to GST-Nup62</text>
<line x1="315.80" y1="459.00" x2="416.80" y2="459.00" stroke="#231f20" stroke-width="1.9"/>
<text x="260.20" y="521.60" font-size="11.2" text-anchor="start">M.W.</text>
<text x="0" y="0" transform="translate(293.00 512.00) rotate(-43)" font-size="11.3" text-anchor="start">GST-</text>
<text x="0" y="0" transform="translate(299.00 522.50) rotate(-43)" font-size="11.3" text-anchor="start">Nup62</text>
<text x="0" y="0" transform="translate(321.50 522.00) rotate(-43)" font-size="11.3" text-anchor="start">Imp <tspan class="g">β</tspan></text>
<text x="0" y="0" transform="translate(346.50 525.00) rotate(-43)" font-size="11.3" text-anchor="start">Imp <tspan class="g">β</tspan>+<tspan class="g">α</tspan>IBB</text>
<text x="0" y="0" transform="translate(371.50 524.50) rotate(-43)" font-size="11.3" text-anchor="start">Imp <tspan class="g">β</tspan>+Ran-GDP</text>
<text x="0" y="0" transform="translate(402.00 522.00) rotate(-43)" font-size="11.3" text-anchor="start">Imp <tspan class="g">β</tspan>+Ran-GDP</text>
<text x="0" y="0" transform="translate(422.50 521.50) rotate(-43)" font-size="11.3" text-anchor="start">+RBP1</text>
<clipPath id="cE"><rect x="257.6" y="525.2" width="157.00" height="48.30"/></clipPath>
<g clip-path="url(#cE)">
<rect x="257.6" y="525.2" width="157.00" height="48.30" fill="#c5c6cb"/>
<rect x="264.00" y="522.00" width="16.00" height="54.00" fill="#d3d3d7" fill-opacity="0.6" filter="url(#b5)"/>
<rect x="263.60" y="540.70" width="16.40" height="3.00" rx="1.20" fill="#404044" fill-opacity="1" filter="url(#b2)" transform="rotate(5 271.80 542.20)"/>
<rect x="263.30" y="555.70" width="17.00" height="4.40" rx="1.20" fill="#161618" fill-opacity="1" filter="url(#b2)" transform="rotate(5 271.80 557.90)"/>
<rect x="288.10" y="552.60" width="16.00" height="2.40" rx="1.20" fill="#646468" fill-opacity="1" filter="url(#b2)"/>
<rect x="314.00" y="545.40" width="15.80" height="3.80" rx="1.20" fill="#84848a" fill-opacity="1" filter="url(#b3)"/>
<rect x="314.00" y="552.65" width="15.80" height="1.90" rx="0.95" fill="#808086" fill-opacity="1" filter="url(#b2)"/>
<rect x="339.00" y="545.40" width="17.00" height="3.60" rx="1.20" fill="#9a9aa0" fill-opacity="1" filter="url(#b3)"/>
<rect x="339.00" y="552.75" width="17.00" height="1.90" rx="0.95" fill="#86868c" fill-opacity="1" filter="url(#b2)"/>
<rect x="365.70" y="545.40" width="15.40" height="3.80" rx="1.20" fill="#808086" fill-opacity="1" filter="url(#b3)"/>
<rect x="365.70" y="552.65" width="15.40" height="1.90" rx="0.95" fill="#838389" fill-opacity="1" filter="url(#b2)"/>
<rect x="390.25" y="545.30" width="17.30" height="3.00" rx="1.20" fill="#a6a6ac" fill-opacity="1" filter="url(#b3)"/>
<rect x="390.25" y="552.65" width="17.30" height="1.90" rx="0.95" fill="#8e8e94" fill-opacity="1" filter="url(#b2)"/>
</g>
<text x="258.30" y="541.10" font-size="11" text-anchor="end">100</text>
<text x="256.50" y="556.30" font-size="11" text-anchor="end">75</text>
<line x1="414.60" y1="545.30" x2="421.00" y2="545.30" stroke="#231f20" stroke-width="2.0"/>
<text x="422.70" y="547.00" font-size="11.2" text-anchor="start">Imp <tspan class="g">β</tspan></text>
<line x1="414.60" y1="553.80" x2="421.00" y2="553.80" stroke="#231f20" stroke-width="2.0"/>
<text x="422.70" y="559.20" font-size="11.2" text-anchor="start">Nup62</text>
<text x="270.70" y="584.50" font-size="11" text-anchor="middle">(1)</text>
<text x="296.80" y="584.50" font-size="11" text-anchor="middle">(2)</text>
<text x="322.90" y="584.50" font-size="11" text-anchor="middle">(3)</text>
<text x="349.00" y="584.50" font-size="11" text-anchor="middle">(4)</text>
<text x="375.00" y="584.50" font-size="11" text-anchor="middle">(5)</text>
<text x="401.00" y="584.50" font-size="11" text-anchor="middle">(6)</text>
<rect x="299.80" y="668.49" width="23.00" height="133.21" fill="#97989c" stroke="#231f20" stroke-width="2.3"/>
<rect x="337.50" y="704.54" width="23.00" height="97.16" fill="#97989c" stroke="#231f20" stroke-width="2.3"/>
<rect x="375.50" y="671.24" width="23.00" height="130.46" fill="#97989c" stroke="#231f20" stroke-width="2.3"/>
<rect x="413.10" y="731.21" width="23.00" height="70.49" fill="#97989c" stroke="#231f20" stroke-width="2.3"/>
<line x1="311.30" y1="688.77" x2="311.30" y2="646.70" stroke="#2d292a" stroke-width="0.9"/>
<line x1="305.30" y1="688.77" x2="317.30" y2="688.77" stroke="#2d292a" stroke-width="0.9"/>
<line x1="305.30" y1="646.70" x2="317.30" y2="646.70" stroke="#2d292a" stroke-width="0.9"/>
<line x1="349.00" y1="714.44" x2="349.00" y2="694.03" stroke="#2d292a" stroke-width="0.9"/>
<line x1="343.00" y1="714.44" x2="355.00" y2="714.44" stroke="#2d292a" stroke-width="0.9"/>
<line x1="343.00" y1="694.03" x2="355.00" y2="694.03" stroke="#2d292a" stroke-width="0.9"/>
<line x1="387.00" y1="693.03" x2="387.00" y2="648.58" stroke="#2d292a" stroke-width="0.9"/>
<line x1="381.00" y1="693.03" x2="393.00" y2="693.03" stroke="#2d292a" stroke-width="0.9"/>
<line x1="381.00" y1="648.58" x2="393.00" y2="648.58" stroke="#2d292a" stroke-width="0.9"/>
<line x1="424.60" y1="744.86" x2="424.60" y2="716.19" stroke="#2d292a" stroke-width="0.9"/>
<line x1="418.60" y1="744.86" x2="430.60" y2="744.86" stroke="#2d292a" stroke-width="0.9"/>
<line x1="418.60" y1="716.19" x2="430.60" y2="716.19" stroke="#2d292a" stroke-width="0.9"/>
<circle cx="307.80" cy="653.09" r="1.8" fill="#231f20"/>
<circle cx="314.00" cy="651.46" r="1.8" fill="#231f20"/>
<circle cx="311.30" cy="670.62" r="1.8" fill="#231f20"/>
<circle cx="311.30" cy="696.53" r="1.8" fill="#231f20"/>
<circle cx="349.00" cy="689.52" r="1.8" fill="#231f20"/>
<circle cx="345.60" cy="709.80" r="1.8" fill="#231f20"/>
<circle cx="352.60" cy="709.80" r="1.8" fill="#231f20"/>
<circle cx="386.60" cy="652.71" r="1.8" fill="#231f20"/>
<circle cx="384.20" cy="663.60" r="1.8" fill="#231f20"/>
<circle cx="390.00" cy="664.23" r="1.8" fill="#231f20"/>
<circle cx="386.60" cy="702.79" r="1.8" fill="#231f20"/>
<circle cx="424.50" cy="715.06" r="1.8" fill="#231f20"/>
<circle cx="422.00" cy="729.08" r="1.8" fill="#231f20"/>
<circle cx="427.30" cy="729.08" r="1.8" fill="#231f20"/>
<circle cx="424.50" cy="749.37" r="1.8" fill="#231f20"/>
<line x1="286.00" y1="638.70" x2="286.00" y2="802.65" stroke="#231f20" stroke-width="1.9"/>
<line x1="285.05" y1="801.70" x2="450.00" y2="801.70" stroke="#231f20" stroke-width="1.9"/>
<line x1="280.00" y1="801.70" x2="286.00" y2="801.70" stroke="#231f20" stroke-width="1.7"/>
<text x="277.50" y="806.30" font-size="12.5" text-anchor="end">0.0</text>
<line x1="280.00" y1="739.10" x2="286.00" y2="739.10" stroke="#231f20" stroke-width="1.7"/>
<text x="277.50" y="743.70" font-size="12.5" text-anchor="end">0.5</text>
<line x1="280.00" y1="676.50" x2="286.00" y2="676.50" stroke="#231f20" stroke-width="1.7"/>
<text x="277.50" y="681.10" font-size="12.5" text-anchor="end">1.0</text>
<line x1="311.30" y1="801.70" x2="311.30" y2="808.20" stroke="#231f20" stroke-width="1.7"/>
<line x1="349.00" y1="801.70" x2="349.00" y2="808.20" stroke="#231f20" stroke-width="1.7"/>
<line x1="387.00" y1="801.70" x2="387.00" y2="808.20" stroke="#231f20" stroke-width="1.7"/>
<line x1="424.60" y1="801.70" x2="424.60" y2="808.20" stroke="#231f20" stroke-width="1.7"/>
<text x="0" y="0" transform="translate(314.70 817.10) rotate(-43)" font-size="13.7" text-anchor="end">Imp <tspan class="g">β</tspan></text>
<text x="0" y="0" transform="translate(352.40 817.10) rotate(-43)" font-size="13.7" text-anchor="end">MBP-<tspan class="g">α</tspan>IBB</text>
<text x="0" y="0" transform="translate(395.40 815.60) rotate(-43)" font-size="13.7" text-anchor="end">Ran-GDP</text>
<text x="0" y="0" transform="translate(434.50 813.60) rotate(-43)" font-size="13.7" text-anchor="end">Ran-GDP+RBP1</text>
<text x="0" y="0" transform="translate(250.30 710.00) rotate(-90)" font-size="14.8" text-anchor="middle">Imp <tspan class="g">β</tspan> bound to GST-Nup62</text>
<polyline points="305.30,610.00 305.30,604.00 422.00,604.00 422.00,610.00" fill="none" stroke="#231f20" stroke-width="1.2"/>
<text x="361.40" y="600.80" font-size="11.2" text-anchor="middle">* p=0.011</text>
<polyline points="305.30,624.00 305.30,618.00 383.10,618.00 383.10,624.00" fill="none" stroke="#231f20" stroke-width="1.2"/>
<text x="345.60" y="615.60" font-size="11.2" text-anchor="middle">n.s.</text>
<polyline points="306.40,639.00 306.40,632.70 349.10,632.70 349.10,639.00" fill="none" stroke="#231f20" stroke-width="1.2"/>
<text x="328.00" y="630.30" font-size="11.2" text-anchor="middle">n.s.</text>
</g>
<g id="panelF">
<text x="472.40" y="458.90" font-size="21.6" text-anchor="start">F</text>
<text x="508.00" y="451.10" font-size="13.7" text-anchor="start">Bound to GST-Nup153</text>
<line x1="535.00" y1="458.40" x2="638.80" y2="458.40" stroke="#231f20" stroke-width="1.9"/>
<text x="480.50" y="521.60" font-size="11.2" text-anchor="start">M.W.</text>
<text x="0" y="0" transform="translate(511.00 510.00) rotate(-43)" font-size="11.3" text-anchor="start">GST-</text>
<text x="0" y="0" transform="translate(516.00 522.50) rotate(-43)" font-size="11.3" text-anchor="start">Nup153</text>
<text x="0" y="0" transform="translate(540.00 522.00) rotate(-43)" font-size="11.3" text-anchor="start">Imp <tspan class="g">β</tspan></text>
<text x="0" y="0" transform="translate(565.00 524.00) rotate(-43)" font-size="11.3" text-anchor="start">Imp <tspan class="g">β</tspan>+<tspan class="g">α</tspan>IBB</text>
<text x="0" y="0" transform="translate(594.00 523.00) rotate(-43)" font-size="11.3" text-anchor="start">Imp <tspan class="g">β</tspan>+Ran-GDP</text>
<text x="0" y="0" transform="translate(622.50 522.50) rotate(-43)" font-size="11.3" text-anchor="start">Imp <tspan class="g">β</tspan>+Ran-GDP</text>
<text x="0" y="0" transform="translate(642.70 521.80) rotate(-43)" font-size="11.3" text-anchor="start">+RBP1</text>
<clipPath id="cF"><rect x="477.2" y="525.9" width="160.60" height="47.30"/></clipPath>
<g clip-path="url(#cF)">
<rect x="477.2" y="525.9" width="160.60" height="47.30" fill="#c7c8cd"/>
<rect x="484.00" y="522.00" width="16.00" height="54.00" fill="#d3d3d7" fill-opacity="0.55" filter="url(#b5)"/>
<rect x="534.90" y="554.00" width="16.00" height="22.00" fill="#b8b9be" fill-opacity="0.45" filter="url(#b5)"/>
<rect x="561.30" y="554.00" width="16.00" height="22.00" fill="#b8b9be" fill-opacity="0.45" filter="url(#b5)"/>
<rect x="588.40" y="554.00" width="16.00" height="22.00" fill="#b8b9be" fill-opacity="0.45" filter="url(#b5)"/>
<rect x="614.90" y="554.00" width="16.00" height="22.00" fill="#b8b9be" fill-opacity="0.45" filter="url(#b5)"/>
<rect x="483.30" y="541.20" width="17.40" height="4.00" rx="1.20" fill="#505055" fill-opacity="1" filter="url(#b2)" transform="rotate(4 492.00 543.20)"/>
<rect x="483.10" y="557.60" width="17.80" height="4.80" rx="1.20" fill="#34343a" fill-opacity="1" filter="url(#b2)" transform="rotate(3 492.00 560.00)"/>
<rect x="507.60" y="551.20" width="20.00" height="2.40" rx="1.20" fill="#6a6a70" fill-opacity="1" filter="url(#b2)"/>
<rect x="508.10" y="563.00" width="19.00" height="1.20" rx="0.60" fill="#aaaaaf" fill-opacity="0.6" filter="url(#b2)"/>
<rect x="534.90" y="547.00" width="16.00" height="6.40" rx="1.20" fill="#707076" fill-opacity="1" filter="url(#b3)"/>
<rect x="534.90" y="547.10" width="16.00" height="1.60" rx="0.80" fill="#505056" fill-opacity="0.8" filter="url(#b2)"/>
<rect x="534.90" y="549.50" width="16.00" height="1.60" rx="0.80" fill="#444449" fill-opacity="0.85" filter="url(#b2)"/>
<rect x="534.90" y="551.70" width="16.00" height="1.80" rx="0.90" fill="#404046" fill-opacity="0.9" filter="url(#b2)"/>
<rect x="535.40" y="563.00" width="15.00" height="1.20" rx="0.60" fill="#a0a0a5" fill-opacity="0.6" filter="url(#b2)"/>
<rect x="559.30" y="546.70" width="20.00" height="2.60" rx="1.20" fill="#808086" fill-opacity="1" filter="url(#b3)"/>
<rect x="559.30" y="550.30" width="20.00" height="2.60" rx="1.20" fill="#7a7a80" fill-opacity="1" filter="url(#b3)"/>
<rect x="587.20" y="546.30" width="18.40" height="6.00" rx="1.20" fill="#6c6c72" fill-opacity="1" filter="url(#b3)"/>
<rect x="587.20" y="550.80" width="18.40" height="2.20" rx="1.10" fill="#505056" fill-opacity="0.9" filter="url(#b3)"/>
<rect x="588.40" y="561.40" width="16.00" height="1.20" rx="0.60" fill="#a0a0a5" fill-opacity="0.6" filter="url(#b2)"/>
<rect x="613.90" y="547.40" width="18.00" height="5.60" rx="1.20" fill="#707076" fill-opacity="1" filter="url(#b3)"/>
<rect x="613.90" y="551.00" width="18.00" height="2.80" rx="1.20" fill="#38383e" fill-opacity="1" filter="url(#b3)"/>
<polyline points="619,526 614.1,535.1 616.1,539.7 612.8,548.9 608.9,557.4 603.6,561.4 605.6,564 604.3,573.2" fill="none" stroke="#e6e6ea" stroke-width="0.95" stroke-opacity="0.8"/>
</g>
<text x="477.80" y="545.00" font-size="11" text-anchor="end">100</text>
<text x="476.30" y="560.20" font-size="11" text-anchor="end">75</text>
<line x1="637.00" y1="546.20" x2="643.00" y2="546.20" stroke="#231f20" stroke-width="2.0"/>
<text x="644.70" y="546.30" font-size="11.2" text-anchor="start">Imp <tspan class="g">β</tspan></text>
<line x1="637.00" y1="552.00" x2="643.00" y2="552.00" stroke="#231f20" stroke-width="2.0"/>
<text x="644.70" y="559.20" font-size="11.2" text-anchor="start">Nup153</text>
<text x="490.30" y="584.50" font-size="11" text-anchor="middle">(1)</text>
<text x="516.60" y="584.50" font-size="11" text-anchor="middle">(2)</text>
<text x="543.00" y="584.50" font-size="11" text-anchor="middle">(3)</text>
<text x="569.40" y="584.50" font-size="11" text-anchor="middle">(4)</text>
<text x="598.00" y="584.50" font-size="11" text-anchor="middle">(5)</text>
<text x="624.70" y="584.50" font-size="11" text-anchor="middle">(6)</text>
<rect x="523.20" y="682.94" width="23.00" height="118.86" fill="#97989c" stroke="#231f20" stroke-width="2.3"/>
<rect x="561.00" y="689.33" width="23.00" height="112.47" fill="#97989c" stroke="#231f20" stroke-width="2.3"/>
<rect x="598.50" y="697.08" width="23.00" height="104.72" fill="#97989c" stroke="#231f20" stroke-width="2.3"/>
<rect x="636.20" y="727.14" width="23.00" height="74.66" fill="#97989c" stroke="#231f20" stroke-width="2.3"/>
<line x1="534.70" y1="697.08" x2="534.70" y2="667.16" stroke="#2d292a" stroke-width="0.9"/>
<line x1="528.70" y1="697.08" x2="540.70" y2="697.08" stroke="#2d292a" stroke-width="0.9"/>
<line x1="528.70" y1="667.16" x2="540.70" y2="667.16" stroke="#2d292a" stroke-width="0.9"/>
<line x1="572.50" y1="723.19" x2="572.50" y2="654.65" stroke="#2d292a" stroke-width="0.9"/>
<line x1="566.50" y1="723.19" x2="578.50" y2="723.19" stroke="#2d292a" stroke-width="0.9"/>
<line x1="566.50" y1="654.65" x2="578.50" y2="654.65" stroke="#2d292a" stroke-width="0.9"/>
<line x1="610.00" y1="710.00" x2="610.00" y2="681.85" stroke="#2d292a" stroke-width="0.9"/>
<line x1="604.00" y1="710.00" x2="616.00" y2="710.00" stroke="#2d292a" stroke-width="0.9"/>
<line x1="604.00" y1="681.85" x2="616.00" y2="681.85" stroke="#2d292a" stroke-width="0.9"/>
<line x1="647.70" y1="746.04" x2="647.70" y2="706.60" stroke="#2d292a" stroke-width="0.9"/>
<line x1="641.70" y1="746.04" x2="653.70" y2="746.04" stroke="#2d292a" stroke-width="0.9"/>
<line x1="641.70" y1="706.60" x2="653.70" y2="706.60" stroke="#2d292a" stroke-width="0.9"/>
<circle cx="534.30" cy="664.44" r="1.8" fill="#231f20"/>
<circle cx="534.30" cy="677.77" r="1.8" fill="#231f20"/>
<circle cx="534.30" cy="686.20" r="1.8" fill="#231f20"/>
<circle cx="534.30" cy="699.39" r="1.8" fill="#231f20"/>
<circle cx="572.20" cy="654.65" r="1.8" fill="#231f20"/>
<circle cx="572.20" cy="673.14" r="1.8" fill="#231f20"/>
<circle cx="572.20" cy="688.92" r="1.8" fill="#231f20"/>
<circle cx="572.20" cy="736.25" r="1.8" fill="#231f20"/>
<circle cx="610.40" cy="681.17" r="1.8" fill="#231f20"/>
<circle cx="610.40" cy="687.15" r="1.8" fill="#231f20"/>
<circle cx="613.00" cy="706.60" r="1.8" fill="#231f20"/>
<circle cx="606.00" cy="710.00" r="1.8" fill="#231f20"/>
<circle cx="644.00" cy="709.86" r="1.8" fill="#231f20"/>
<circle cx="651.00" cy="709.86" r="1.8" fill="#231f20"/>
<circle cx="647.50" cy="735.16" r="1.8" fill="#231f20"/>
<circle cx="647.50" cy="750.26" r="1.8" fill="#231f20"/>
<line x1="510.20" y1="638.00" x2="510.20" y2="802.75" stroke="#231f20" stroke-width="1.9"/>
<line x1="509.25" y1="801.80" x2="673.40" y2="801.80" stroke="#231f20" stroke-width="1.9"/>
<line x1="504.20" y1="801.80" x2="510.20" y2="801.80" stroke="#231f20" stroke-width="1.7"/>
<text x="500.20" y="806.40" font-size="12.5" text-anchor="end">0.0</text>
<line x1="504.20" y1="733.80" x2="510.20" y2="733.80" stroke="#231f20" stroke-width="1.7"/>
<text x="500.20" y="738.40" font-size="12.5" text-anchor="end">0.5</text>
<line x1="504.20" y1="665.80" x2="510.20" y2="665.80" stroke="#231f20" stroke-width="1.7"/>
<text x="500.20" y="670.40" font-size="12.5" text-anchor="end">1.0</text>
<line x1="534.70" y1="801.80" x2="534.70" y2="808.30" stroke="#231f20" stroke-width="1.7"/>
<line x1="572.50" y1="801.80" x2="572.50" y2="808.30" stroke="#231f20" stroke-width="1.7"/>
<line x1="610.00" y1="801.80" x2="610.00" y2="808.30" stroke="#231f20" stroke-width="1.7"/>
<line x1="647.70" y1="801.80" x2="647.70" y2="808.30" stroke="#231f20" stroke-width="1.7"/>
<text x="0" y="0" transform="translate(537.30 817.20) rotate(-43)" font-size="13.7" text-anchor="end">Imp <tspan class="g">β</tspan></text>
<text x="0" y="0" transform="translate(575.10 817.20) rotate(-43)" font-size="13.7" text-anchor="end">MBP-<tspan class="g">α</tspan>IBB</text>
<text x="0" y="0" transform="translate(617.60 815.70) rotate(-43)" font-size="13.7" text-anchor="end">Ran-GDP</text>
<text x="0" y="0" transform="translate(656.80 813.70) rotate(-43)" font-size="13.7" text-anchor="end">Ran-GTP+RBP1</text>
<text x="0" y="0" transform="translate(473.30 705.50) rotate(-90)" font-size="14.8" text-anchor="middle">Imp <tspan class="g">β</tspan> bound to GST-Nup153</text>
<polyline points="530.80,610.00 530.80,604.00 648.20,604.00 648.20,610.00" fill="none" stroke="#231f20" stroke-width="1.2"/>
<text x="586.90" y="600.80" font-size="11.2" text-anchor="middle">* p=0.013</text>
<polyline points="530.80,624.00 530.80,618.00 608.60,618.00 608.60,624.00" fill="none" stroke="#231f20" stroke-width="1.2"/>
<text x="572.90" y="615.60" font-size="11.2" text-anchor="middle">n.s.</text>
<polyline points="531.90,638.40 531.90,632.00 574.00,632.00 574.00,638.40" fill="none" stroke="#231f20" stroke-width="1.2"/>
<text x="553.60" y="629.60" font-size="11.2" text-anchor="middle">n.s.</text>
</g>
</svg>
</body></html>
